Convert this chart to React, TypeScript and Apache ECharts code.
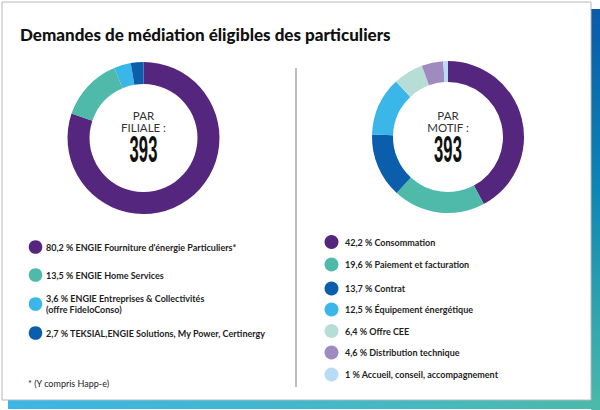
import React, { useEffect, useRef } from "react";
import * as echarts from "echarts";

const title = "Demandes de médiation éligibles des particuliers";
const totalRequests = 393;

const filialeNames = [
  "ENGIE Fourniture d'énergie Particuliers*",
  "ENGIE Home Services",
  "ENGIE Entreprises & Collectivités\n(offre FideloConso)",
  "TEKSIAL,ENGIE Solutions, My Power, Certinergy",
];
const filialeValues = [80.2, 13.5, 3.6, 2.7];
const filialeColors = ["#55267e", "#4fbaa9", "#3bb6e8", "#0b5eab"];

const motifNames = [
  "Consommation",
  "Paiement et facturation",
  "Contrat",
  "Équipement énergétique",
  "Offre CEE",
  "Distribution technique",
  "Accueil, conseil, accompagnement",
];
const motifValues = [42.2, 19.6, 13.7, 12.5, 6.4, 4.6, 1];
const motifColors = ["#55267e", "#4fbaa9", "#0b5eab", "#3bb6e8", "#b6ded6", "#a08bc0", "#b8dcf4"];

const footnote = "* (Y compris Happ-e)";

const fmt = (v: number) => String(v).replace(".", ",");

const FONT = "Lato, 'Open Sans', sans-serif";

export default function App() {
  const ref = useRef<HTMLDivElement>(null);
  useEffect(() => {
    if (!ref.current) return;
    const chart = echarts.init(ref.current, undefined, { renderer: "svg" });

    const leftLegendY = [247, 275, 304, 333];
    const rightLegendY = [242, 264.5, 288.5, 309.5, 331, 352.5, 374.5];

    const legendItems: any[] = [];
    filialeNames.forEach((n, i) => {
      legendItems.push({
        type: "circle",
        shape: { cx: 35.5, cy: leftLegendY[i], r: 6.8 },
        style: { fill: filialeColors[i] },
        z: 10,
      });
      legendItems.push({
        type: "text",
        x: 46,
        y: leftLegendY[i],
        style: {
          text: `${fmt(filialeValues[i])} % ${n}`,
          font: `bold 9px ${FONT}`,
          fill: "#1e1e1e",
          textAlign: "left",
          textVerticalAlign: "middle",
          lineHeight: 11,
        },
        z: 10,
      });
    });
    motifNames.forEach((n, i) => {
      legendItems.push({
        type: "circle",
        shape: { cx: 331.5, cy: rightLegendY[i], r: 7 },
        style: { fill: motifColors[i] },
        z: 10,
      });
      legendItems.push({
        type: "text",
        x: 345,
        y: rightLegendY[i],
        style: {
          text: `${fmt(motifValues[i])} % ${n}`,
          font: `bold 9px ${FONT}`,
          fill: "#1e1e1e",
          textAlign: "left",
          textVerticalAlign: "middle",
        },
        z: 10,
      });
    });

    const centerText = (cx: number, line2: string) => [
      {
        type: "text",
        x: cx,
        y: 115,
        style: {
          text: "PAR",
          font: `11.5px ${FONT}`,
          fill: "#333",
          textAlign: "center",
          textVerticalAlign: "middle",
        },
        z: 10,
      },
      {
        type: "text",
        x: cx,
        y: 127.5,
        style: {
          text: line2,
          font: `11.5px ${FONT}`,
          fill: "#333",
          textAlign: "center",
          textVerticalAlign: "middle",
        },
        z: 10,
      },
      {
        type: "text",
        x: cx,
        y: 149,
        scaleX: 0.45,
        style: {
          text: String(totalRequests),
          font: `bold 37px 'Liberation Sans', sans-serif`,
          fill: "#111",
          textAlign: "center",
          textVerticalAlign: "middle",
        },
        z: 10,
      },
    ];

    chart.setOption({
      animation: false,
      graphic: [
        {
          type: "rect",
          shape: { x: 591, y: 9, width: 9, height: 401 },
          style: {
            fill: new echarts.graphic.LinearGradient(0, 0, 0, 1, [
              { offset: 0, color: "#0a5aa8" },
              { offset: 0.45, color: "#0d86b4" },
              { offset: 1, color: "#4bbaab" },
            ]),
          },
          z: 0,
        },
        {
          type: "rect",
          shape: { x: 8, y: 400, width: 592, height: 9 },
          style: {
            fill: new echarts.graphic.LinearGradient(0, 0, 1, 0, [
              { offset: 0, color: "#3bb6e6" },
              { offset: 0.5, color: "#42b8cc" },
              { offset: 1, color: "#4bbaab" },
            ]),
          },
          z: 0,
        },
        {
          type: "rect",
          shape: { x: 2, y: 2, width: 589, height: 398 },
          style: { fill: "#fff", stroke: "#b8b8b8", lineWidth: 1 },
          z: 1,
        },
        {
          type: "line",
          shape: { x1: 296, y1: 68, x2: 296, y2: 387 },
          style: { stroke: "#a8a8a8", lineWidth: 1.5 },
          z: 2,
        },
        {
          type: "text",
          x: 20,
          y: 34,
          style: {
            text: title,
            font: `900 17px ${FONT}`,
            fill: "#111",
            textAlign: "left",
            textVerticalAlign: "middle",
          },
          z: 10,
        },
        ...centerText(143.5, "FILIALE :"),
        ...centerText(448, "MOTIF :"),
        ...legendItems,
        {
          type: "text",
          x: 28,
          y: 383,
          style: {
            text: footnote,
            font: `9px ${FONT}`,
            fill: "#222",
            textAlign: "left",
            textVerticalAlign: "middle",
          },
          z: 10,
        },
      ],
      series: [
        {
          type: "pie",
          name: "Par filiale",
          center: [143.5, 138],
          radius: [54, 76],
          startAngle: 90,
          clockwise: true,
          label: { show: false },
          labelLine: { show: false },
          emphasis: { disabled: true },
          z: 5,
          data: filialeNames.map((n, i) => ({
            name: n,
            value: filialeValues[i],
            itemStyle: { color: filialeColors[i] },
          })),
        },
        {
          type: "pie",
          name: "Par motif",
          center: [448, 137],
          radius: [55, 76],
          startAngle: 90,
          clockwise: true,
          label: { show: false },
          labelLine: { show: false },
          emphasis: { disabled: true },
          z: 5,
          data: motifNames.map((n, i) => ({
            name: n,
            value: motifValues[i],
            itemStyle: { color: motifColors[i] },
          })),
        },
      ],
    });
    return () => chart.dispose();
  }, []);
  return (
    <div
      ref={ref}
      style={{ position: "fixed", left: 0, top: 0, width: 600, height: 410, background: "#fff" }}
    />
  );
}
